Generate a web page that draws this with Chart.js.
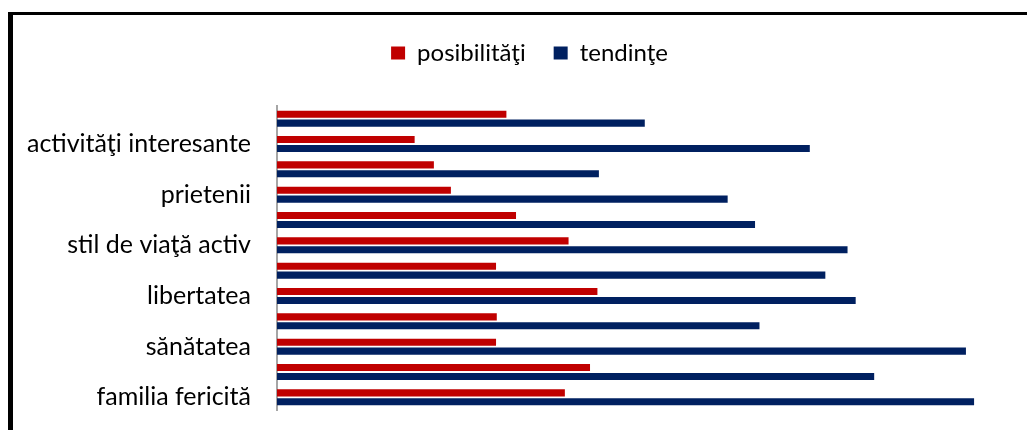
<!DOCTYPE html>
<html>
<head>
<meta charset="utf-8">
<script src="https://cdn.jsdelivr.net/npm/chart.js@4"></script>
<style>
  body { margin: 0; background: #fff; overflow: hidden; }
  #frame { position: absolute; left: 8px; top: 12px; width: 1100px; height: 500px;
           border-left: 5px solid #000; border-top: 3px solid #000; pointer-events: none; }
  canvas { position: absolute; left: 0; top: 0; }
</style>
</head>
<body>
<canvas id="barChart" width="1027" height="430"></canvas>
<div id="frame"></div>
<script>
// categories top to bottom (only every second label is printed on the original)
const categories = ['', 'activităţi interesante', '', 'prietenii', '', 'stil de viaţă activ',
                    '', 'libertatea', '', 'sănătatea', '', 'familia fericită'];
const posibilitati = [31.0, 18.6, 21.2, 23.5, 32.3, 39.4, 29.6, 43.3, 29.7, 29.6, 42.3, 38.9];
const tendinte = [49.7, 72.0, 43.5, 60.9, 64.6, 77.1, 74.1, 78.2, 65.2, 93.1, 80.7, 94.2];

const labelFont = "Lato, 'Open Sans', sans-serif";

// fixed legend block height, and legend nudged right to sit over the plot like the original
const legendPlace = {
  id: 'legendPlace',
  afterInit(chart) {
    const fit = chart.legend.fit;
    chart.legend.fit = function () {
      fit.call(this);
      this.height = 93;
    };
  },
  afterLayout(chart) {
    chart.legend.left += 11;
    chart.legend.right += 11;
  }
};

ctx = document.getElementById('barChart').getContext('2d');

new Chart(ctx, {
  type: 'bar',
  data: {
    labels: categories,
    datasets: [{
      label: 'posibilităţi',
      data: posibilitati,
      backgroundColor: '#c00000',
      borderWidth: 0
    }, {
      label: 'tendinţe',
      data: tendinte,
      backgroundColor: '#002060',
      borderWidth: 0
    }]
  },
  options: {
    indexAxis: 'y',
    responsive: false,
    animation: false,
    categoryPercentage: 0.7,
    barPercentage: 0.8,
    layout: { padding: { left: 20, right: 10, top: 13, bottom: 20 } },
    scales: {
      x: {
        display: false,
        min: 0,
        max: 100
      },
      y: {
        grid: { display: false, drawTicks: false },
        border: { display: true, color: '#a6a6a6', width: 2 },
        ticks: {
          autoSkip: false,
          color: '#000',
          padding: 26,
          font: { family: labelFont, size: 25 }
        },
        afterFit: (scale) => {
          scale.width = 257;
          scale.paddingTop = 0;
          scale.paddingBottom = 0;
        }
      }
    },
    plugins: {
      legend: {
        labels: {
          color: '#000',
          boxWidth: 14,
          boxHeight: 13,
          padding: 28,
          font: { family: labelFont, size: 24 }
        }
      },
      tooltip: { enabled: false }
    }
  },
  plugins: [legendPlace]
});
</script>
</body>
</html>
